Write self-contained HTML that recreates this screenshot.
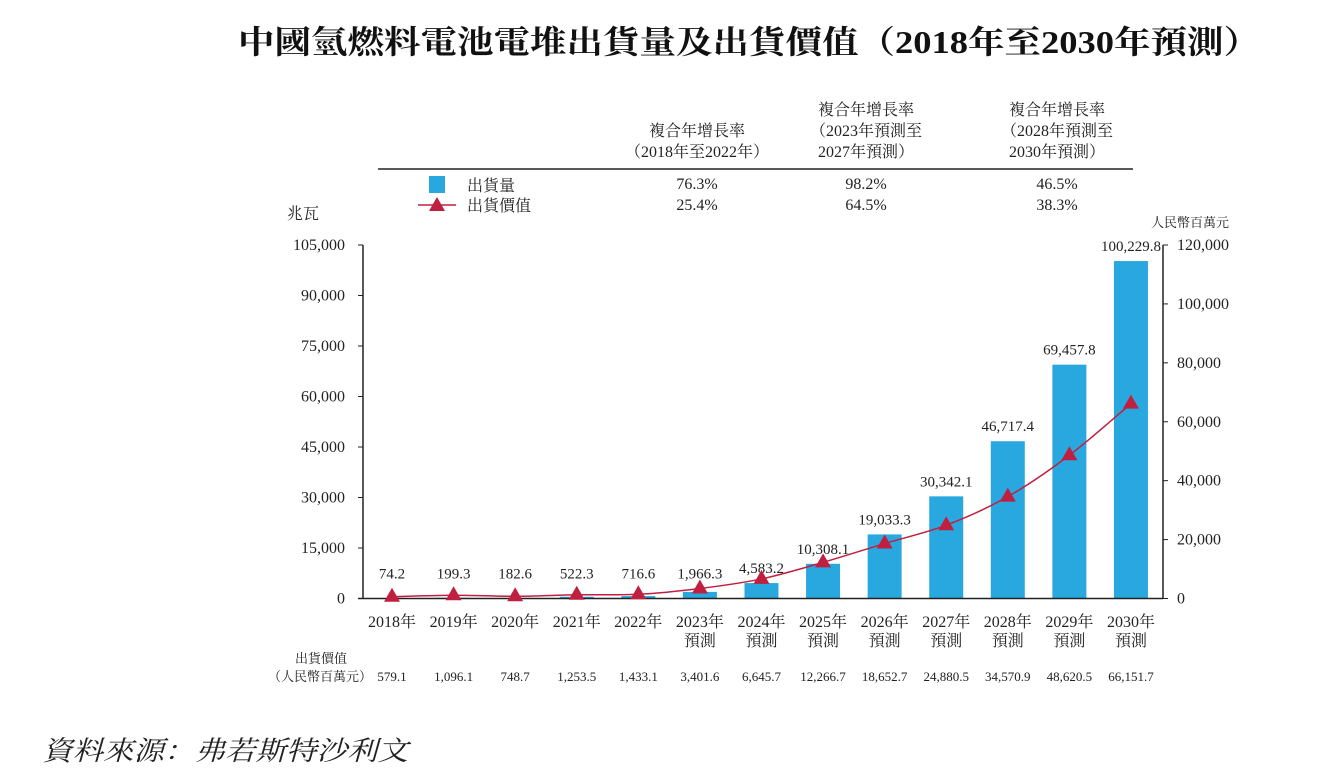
<!DOCTYPE html>
<html><head><meta charset="utf-8">
<style>
body{margin:0;background:#fff;width:1327px;height:770px;overflow:hidden;font-family:"Liberation Serif","Noto Serif CJK SC",serif;}
svg{position:absolute;left:0;top:0}
</style></head>
<body>
<svg id="chart" width="1327" height="770" font-family="Liberation Serif, Noto Serif CJK SC, serif">
<text x="238" y="53" font-size="32" font-weight="bold" textLength="1022" lengthAdjust="spacingAndGlyphs" fill="#111">中國氫燃料電池電堆出貨量及出貨價值（2018年至2030年預測）</text>
<g font-size="16" fill="#222" text-anchor="middle">
<text x="697" y="136">複合年增長率</text><text x="697" y="157">（2018年至2022年）</text>
<text x="866" y="115">複合年增長率</text><text x="866" y="136">（2023年預測至</text><text x="866" y="157">2027年預測）</text>
<text x="1057" y="115">複合年增長率</text><text x="1057" y="136">（2028年預測至</text><text x="1057" y="157">2030年預測）</text>
<text x="697" y="189">76.3%</text><text x="866" y="189">98.2%</text><text x="1057" y="189">46.5%</text>
<text x="697" y="210">25.4%</text><text x="866" y="210">64.5%</text><text x="1057" y="210">38.3%</text>
</g>
<line x1="378" y1="169" x2="1133" y2="169" stroke="#222" stroke-width="1.5"/>
<rect x="429" y="176" width="16" height="17" fill="#29a8e0"/>
<text x="467" y="191" font-size="16" fill="#222">出貨量</text>
<line x1="418" y1="205" x2="456" y2="205" stroke="#c0203f" stroke-width="1.5"/>
<polygon points="437,197 429,211 445,211" fill="#c0203f"/>
<text x="467" y="211" font-size="16" fill="#222">出貨價值</text>
<text x="287" y="219" font-size="16" fill="#222">兆瓦</text>
<text x="1190" y="227" font-size="13" fill="#222" text-anchor="middle">人民幣百萬元</text>
<g id="plot"></g>
<text x="42" y="760" font-size="27" font-style="italic" textLength="366" lengthAdjust="spacingAndGlyphs" fill="#222">資料來源：弗若斯特沙利文</text>
</svg>
<script>
const years=["2018年","2019年","2020年","2021年","2022年","2023年","2024年","2025年","2026年","2027年","2028年","2029年","2030年"];
const forecast=[false,false,false,false,false,true,true,true,true,true,true,true,true];
const volume=[74.2,199.3,182.6,522.3,716.6,1966.3,4583.2,10308.1,19033.3,30342.1,46717.4,69457.8,100229.8];
const value=[579.1,1096.1,748.7,1253.5,1433.1,3401.6,6645.7,12266.7,18652.7,24880.5,34570.9,48620.5,66151.7];
const leftTicks=[0,15000,30000,45000,60000,75000,90000,105000];
const rightTicks=[0,20000,40000,60000,80000,100000,120000];
(function(){
const NS="http://www.w3.org/2000/svg";
const g=document.getElementById('plot');
const base=598.5, yTop=245, xL=363, xR=1163;
const yL=v=>base-(v/105000)*(base-yTop);
const yR=v=>base-(v/120000)*(base-yTop);
const xC=i=>392+i*61.58;
const fmt=(v,d)=>v.toLocaleString('en-US',{minimumFractionDigits:d,maximumFractionDigits:d});
function mk(tag,attrs,txt){const e=document.createElementNS(NS,tag);for(const k in attrs)e.setAttribute(k,attrs[k]);if(txt!==undefined)e.textContent=txt;g.appendChild(e);return e;}
let e;
volume.forEach((v,i)=>{
 const y=yL(v);
 e=mk('rect',{x:xC(i)-17,y:y,width:34,height:base-y,fill:'#29a8e0'});
 
 
 e=mk('text',{x:xC(i),y:Math.min(y,base-10)-10,'font-size':15,'text-anchor':'middle',fill:'#222'},fmt(v,1));
 
 
 e=mk('text',{x:xC(i),y:627,'font-size':16,'text-anchor':'middle',fill:'#222'},years[i]);
 
 
 if(forecast[i]){e=mk('text',{x:xC(i),y:646,'font-size':16,'text-anchor':'middle',fill:'#222'},'預測');
 
 }
 e=mk('text',{x:xC(i),y:681,'font-size':13,'text-anchor':'middle',fill:'#222'},fmt(value[i],1));
 
 
});
e=mk('line',{x1:xL,y1:yTop,x2:xL,y2:base,stroke:'#222','stroke-width':1.5});


e=mk('line',{x1:xR,y1:yTop,x2:xR,y2:base,stroke:'#222','stroke-width':1.5});


e=mk('line',{x1:xL-5,y1:base,x2:xR,y2:base,stroke:'#222','stroke-width':1.5});


leftTicks.forEach(t=>{
 mk('line',{x1:xL-5,y1:yL(t),x2:xL,y2:yL(t),stroke:'#222'});
 e=mk('text',{x:xL-18,y:yL(t)+5,'font-size':16,'text-anchor':'end',fill:'#222'},fmt(t,0));
 
 
});
rightTicks.forEach(t=>{
 mk('line',{x1:xR,y1:yR(t),x2:xR+5,y2:yR(t),stroke:'#222'});
 e=mk('text',{x:xR+14,y:yR(t)+5,'font-size':16,fill:'#222'},fmt(t,0));
 
 
});
e=mk('text',{x:321,y:663,'font-size':13,'text-anchor':'middle',fill:'#222'},'出貨價值');


e=mk('text',{x:320,y:681,'font-size':13,'text-anchor':'middle',fill:'#222'},'（人民幣百萬元）');


const pts=value.map((v,i)=>[xC(i),yR(v)]);
let d='M'+pts[0][0]+','+pts[0][1];
for(let i=0;i<pts.length-1;i++){
 const p0=pts[Math.max(0,i-1)],p1=pts[i],p2=pts[i+1],p3=pts[Math.min(pts.length-1,i+2)];
 const c1=[p1[0]+(p2[0]-p0[0])/6,p1[1]+(p2[1]-p0[1])/6],c2=[p2[0]-(p3[0]-p1[0])/6,p2[1]-(p3[1]-p1[1])/6];
 d+=` C${c1[0]},${c1[1]} ${c2[0]},${c2[1]} ${p2[0]},${p2[1]}`;
}
e=mk('path',{d:d,fill:'none',stroke:'#c0203f','stroke-width':1.5});


pts.forEach((p,i)=>{
 e=mk('polygon',{points:`${p[0]},${p[1]-9} ${p[0]-8},${p[1]+5} ${p[0]+8},${p[1]+5}`,fill:'#c0203f'});
 
 
});
})();
</script>
</body></html>
